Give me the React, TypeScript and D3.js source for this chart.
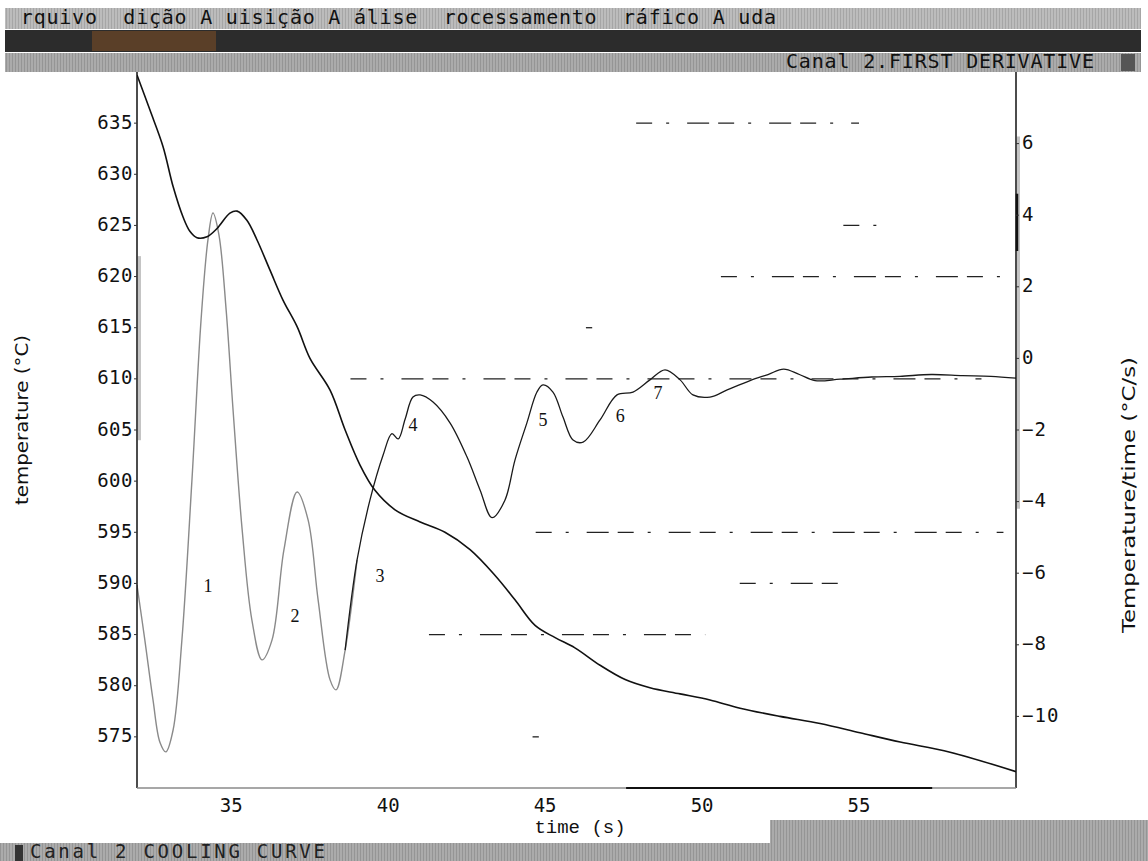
import * as d3 from "d3";

// cooling curve, left axis (°C)
const coolingTime = [32.0, 32.41, 32.83, 33.15, 33.47, 33.69, 33.91, 34.23, 34.55, 34.96, 35.19, 35.5, 35.82, 36.24, 36.65, 37.1, 37.51, 38.15, 38.63, 39.1, 39.58, 40.22, 41.02, 41.81, 42.61, 43.4, 44.04, 44.68, 45.32, 45.95, 46.75, 47.55, 48.34, 49.3, 50.25, 51.21, 52.48, 53.76, 55.03, 56.31, 57.9, 60.0];
const coolingTemp = [639.7, 636.3, 632.7, 628.8, 625.8, 624.4, 623.8, 623.9, 624.7, 626.2, 626.4, 625.5, 623.6, 620.6, 617.7, 615.1, 612.0, 608.9, 605.0, 601.6, 599.1, 597.2, 596.0, 595.0, 593.3, 590.8, 588.4, 585.9, 584.7, 583.7, 582.0, 580.6, 579.8, 579.2, 578.6, 577.8, 577.0, 576.3, 575.4, 574.5, 573.5, 571.6];

// first derivative, right axis (°C/s)
const derivTime = [32.0, 32.25, 32.51, 32.73, 32.92, 33.15, 33.43, 33.75, 34.04, 34.26, 34.42, 34.61, 34.84, 35.06, 35.35, 35.66, 35.98, 36.3, 36.68, 37.1, 37.45, 37.77, 38.15, 38.34, 38.63, 39.01, 39.42, 39.84, 40.12, 40.32, 40.54, 40.79, 41.02, 41.43, 41.97, 42.51, 42.93, 43.31, 43.72, 44.04, 44.42, 44.74, 44.93, 45.25, 45.57, 45.89, 46.21, 46.75, 47.29, 47.8, 48.34, 48.82, 49.3, 49.71, 50.25, 50.8, 51.53, 52.1, 52.6, 53.1, 53.6, 54.4, 55.4, 56.3, 57.3, 58.3, 59.2, 60.0];
const derivRate = [-6.33, -7.87, -9.54, -10.72, -10.99, -10.38, -7.87, -3.4, 1.07, 3.31, 4.06, 3.45, 1.35, -1.44, -4.79, -7.31, -8.42, -7.87, -5.35, -3.73, -4.51, -6.75, -8.98, -9.26, -8.15, -5.63, -3.96, -2.7, -2.1, -2.25, -1.7, -1.08, -1.02, -1.22, -1.8, -2.75, -3.68, -4.45, -3.96, -2.84, -1.8, -0.94, -0.74, -0.94, -1.64, -2.28, -2.34, -1.72, -1.02, -0.94, -0.6, -0.32, -0.6, -1.02, -1.08, -0.88, -0.62, -0.45, -0.3, -0.45, -0.62, -0.58, -0.52, -0.5, -0.45, -0.48, -0.5, -0.55];

// event markers 1..7
const markerNames = ["1", "2", "3", "4", "5", "6", "7"];
const markerTime = [34.26, 37.03, 39.74, 40.79, 44.93, 47.39, 48.6];
const markerRate = [-6.41, -7.25, -6.13, -1.92, -1.78, -1.66, -1.02];

// broken screen gridline remnants (left axis levels)
const ghostTemp = [635, 625, 620, 615, 610, 595, 590, 585, 575];
const ghostFrom = [47.9, 54.5, 50.6, 46.3, 38.8, 44.7, 51.2, 41.3, 44.6];
const ghostTo = [55.0, 55.7, 59.5, 46.5, 58.9, 59.6, 54.4, 50.1, 44.8];

const timeTicks = [35, 40, 45, 50, 55];
const tempTicks = [575, 580, 585, 590, 595, 600, 605, 610, 615, 620, 625, 630, 635];
const rateTicks = [-10, -8, -6, -4, -2, 0, 2, 4, 6];

const menuText = " rquivo  dição A uisição A álise  rocessamento  ráfico A uda";

const W = 1148;
const H = 861;
const LEFT = 137;
const RIGHT = 1016;
const TOP = 72;
const BOTTOM = 788;

export default function App() {
  const x = d3.scaleLinear().domain([32, 60]).range([LEFT, RIGHT]);
  const yT = d3.scaleLinear().domain([570, 640]).range([BOTTOM, TOP]);
  const yR = d3.scaleLinear().domain([-12, 8]).range([BOTTOM, TOP]);

  const cooling = coolingTime.map((t, i) => [t, coolingTemp[i]]);
  const deriv = derivTime.map((t, i) => [t, derivRate[i]]);

  const coolLine = d3.line().x(d => x(d[0])).y(d => yT(d[1])).curve(d3.curveCatmullRom.alpha(0.5));
  const derivLine = d3.line().x(d => x(d[0])).y(d => yR(d[1])).curve(d3.curveCatmullRom.alpha(0.5));

  const derivEarly = deriv.filter(d => d[0] <= 39.05);
  const derivLate = deriv.filter(d => d[0] >= 38.63);

  const mono = "'DejaVu Sans Mono', monospace";

  return (
    <div style={{ position: "absolute", left: 0, top: 0 }}>
      <svg width={W} height={H} style={{ display: "block", background: "#fff" }}>
        <defs>
          <pattern id="stripeLight" width="3" height="4" patternUnits="userSpaceOnUse">
            <rect width="3" height="4" fill="#bcbcbc" />
            <rect width="1" height="4" fill="#a6a6a6" />
          </pattern>
          <pattern id="stripeMid" width="3" height="4" patternUnits="userSpaceOnUse">
            <rect width="3" height="4" fill="#ababab" />
            <rect width="1" height="4" fill="#959595" />
          </pattern>
          <clipPath id="plot">
            <rect x={LEFT} y={TOP} width={RIGHT - LEFT} height={BOTTOM - TOP} />
          </clipPath>
        </defs>

        {/* menu bars */}
        <rect x={5} y={8} width={1136} height={21} fill="url(#stripeLight)" />
        <text x={8} y={24} fontFamily={mono} fontSize={20} fill="#111" textLength={768} style={{ whiteSpace: "pre" }}>{menuText}</text>
        <rect x={5} y={30} width={1136} height={22} fill="#2c2c2c" />
        <rect x={92} y={31} width={124} height={20} fill="#5a3f28" />
        <rect x={5} y={53} width={1136} height={19} fill="url(#stripeMid)" />
        <text x={786} y={68} fontFamily={mono} fontSize={20} fill="#111" textLength={308}>Canal 2.FIRST DERIVATIVE</text>
        <rect x={1121} y={54} width={14} height={17} fill="#555" />

        {/* ghost gridlines */}
        <g stroke="#222" strokeWidth={1.3} strokeDasharray="16 14 3 18 22 9">
          {ghostTemp.map((v, i) => (
            <line key={i} x1={x(ghostFrom[i])} x2={x(ghostTo[i])} y1={yT(v)} y2={yT(v)} />
          ))}
        </g>

        {/* curves */}
        <g clipPath="url(#plot)" fill="none">
          <path d={derivLine(derivEarly)} stroke="#8a8a8a" strokeWidth={1.4} />
          <path d={derivLine(derivLate)} stroke="#1a1a1a" strokeWidth={1.3} />
          <path d={coolLine(cooling)} stroke="#111" strokeWidth={1.6} />
        </g>

        {/* markers */}
        {markerNames.map((m, i) => (
          <text key={m} x={x(markerTime[i])} y={yR(markerRate[i])} fontFamily="'Liberation Serif', serif" fontSize={18} fill="#111" textAnchor="middle" dominantBaseline="middle">{m}</text>
        ))}

        {/* axes */}
        <line x1={LEFT + 2.5} x2={LEFT + 2.5} y1={yT(622)} y2={yT(604)} stroke="#c4c4c4" strokeWidth={3} />
        <line x1={RIGHT + 2.5} x2={RIGHT + 2.5} y1={yR(6.2)} y2={yR(-4.2)} stroke="#c4c4c4" strokeWidth={3} />
        <line x1={LEFT} x2={LEFT} y1={TOP} y2={BOTTOM} stroke="#111" strokeWidth={1.5} />
        <line x1={RIGHT} x2={RIGHT} y1={TOP} y2={BOTTOM} stroke="#111" strokeWidth={1.5} />
        <line x1={RIGHT + 1} x2={RIGHT + 1} y1={yR(4.6)} y2={yR(3.0)} stroke="#111" strokeWidth={2.5} />
        <line x1={LEFT} x2={RIGHT} y1={BOTTOM} y2={BOTTOM} stroke="#8a8a8a" strokeWidth={1.5} />
        <line x1={x(47.58)} x2={x(57.33)} y1={BOTTOM} y2={BOTTOM} stroke="#111" strokeWidth={2} />

        {tempTicks.map(v => (
          <g key={v}>
            <line x1={LEFT - 3} x2={LEFT} y1={yT(v)} y2={yT(v)} stroke="#333" />
            <text x={LEFT - 4} y={yT(v)} fontFamily={mono} fontSize={19} fill="#111" textAnchor="end" dominantBaseline="middle" letterSpacing={0.5}>{v}</text>
          </g>
        ))}
        {rateTicks.map(v => (
          <g key={v}>
            <line x1={RIGHT} x2={RIGHT + 3} y1={yR(v)} y2={yR(v)} stroke="#333" />
            <text x={RIGHT + 6} y={yR(v)} fontFamily={mono} fontSize={19} fill="#111" dominantBaseline="middle" letterSpacing={1}>{v < 0 ? "−" + Math.abs(v) : String(v)}</text>
          </g>
        ))}
        {timeTicks.map(v => (
          <text key={v} x={x(v)} y={806} fontFamily={mono} fontSize={19} fill="#111" textAnchor="middle" dominantBaseline="middle">{v}</text>
        ))}

        <text x={580} y={828} fontFamily="'Liberation Mono', monospace" fontSize={19} fill="#111" textAnchor="middle" dominantBaseline="middle">time (s)</text>
        <text transform="translate(23,420) rotate(-90)" fontFamily="'DejaVu Sans', sans-serif" fontSize={18} fill="#111" textAnchor="middle" dominantBaseline="middle" textLength={170} lengthAdjust="spacingAndGlyphs">temperature (°C)</text>
        <text transform="translate(1130,495) rotate(-90)" fontFamily="'DejaVu Sans', sans-serif" fontSize={18} fill="#111" textAnchor="middle" dominantBaseline="middle" textLength={276} lengthAdjust="spacingAndGlyphs">Temperature/time (°C/s)</text>

        {/* bottom status bar */}
        <rect x={770} y={820} width={378} height={41} fill="url(#stripeMid)" />
        <rect x={0} y={843} width={W} height={18} fill="url(#stripeMid)" />
        <rect x={15} y={845} width={8} height={16} fill="#333" />
        <text x={30} y={858} fontFamily={mono} fontSize={19} fill="#222" textLength={295}>Canal 2 COOLING CURVE</text>
      </svg>
    </div>
  );
}
